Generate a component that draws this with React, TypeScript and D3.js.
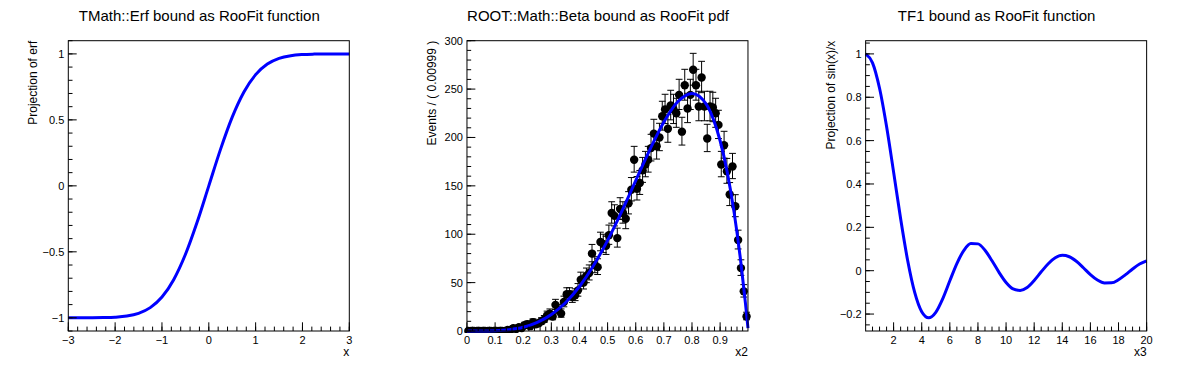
import * as d3 from "d3";

const W = 1196;
const H = 372;
const PAD_W = W / 3;
const FR = { left: 68.3, right: 349.3, top: 40.7, bottom: 331 };
const FONT = "'Liberation Sans', Arial, Helvetica, sans-serif";
const BLUE = "#0000ff";

// pad 1: erf(x)
const erfX = [-3, -2.75, -2.5, -2.25, -2, -1.75, -1.5, -1.25, -1, -0.75, -0.5, -0.25, 0, 0.25, 0.5, 0.75, 1, 1.25, 1.5, 1.75, 2, 2.25, 2.5, 2.75, 3];
const erfY = [-1, -0.9999, -0.9996, -0.9985, -0.9953, -0.9867, -0.9661, -0.9229, -0.8427, -0.7112, -0.5205, -0.2763, 0, 0.2763, 0.5205, 0.7112, 0.8427, 0.9229, 0.9661, 0.9867, 0.9953, 0.9985, 0.9996, 0.9999, 1];

// pad 2: beta pdf, 100 bins on [0, 0.999]
const betaCounts = [
  0, 0, 0, 0, 0, 0, 0, 0, 0, 0,
  0, 0, 0, 0, 1, 1, 3, 2, 4, 3,
  6, 7, 5, 9, 7, 8, 10, 12, 16, 18,
  15, 27, 22, 18, 30, 38, 38, 35, 37, 42,
  53, 50, 57, 60, 80, 68, 66, 92, 90, 88,
  99, 122, 119, 96, 126, 122, 116, 132, 146, 177,
  147, 153, 166, 172, 177, 189, 204, 191, 200, 222,
  229, 209, 233, 229, 225, 244, 206, 254, 230, 244,
  270, 254, 232, 262, 232, 199, 232, 231, 225, 213,
  172, 192, 165, 141, 170, 129, 94, 65, 41, 15,
];
const betaCurveX = [0, 0.05, 0.1, 0.15, 0.2, 0.25, 0.3, 0.35, 0.4, 0.45, 0.5, 0.55, 0.6, 0.65, 0.7, 0.75, 0.8, 0.85, 0.875, 0.9, 0.925, 0.95, 0.975, 0.99, 0.999];
const betaCurveY = [0, 0.02, 0.27, 1.3, 3.8, 8.8, 17, 29.2, 46, 67.6, 93.7, 123.4, 155.4, 187.2, 215.9, 237.1, 245.5, 234.7, 219.6, 196.6, 164.6, 122.1, 67.7, 28.8, 3];

// pad 3: sin(x)/x
const sincX = [0.01, 0.5, 1, 1.5, 2, 2.5, 3, 3.5, 4, 4.5, 5, 5.5, 6, 6.5, 7, 7.5, 8, 8.5, 9, 9.5, 10, 10.5, 11, 11.5, 12, 12.5, 13, 13.5, 14, 14.5, 15, 15.5, 16, 16.5, 17, 17.5, 18, 18.5, 19, 19.5, 20];
const sincY = [1, 0.9589, 0.8415, 0.665, 0.4546, 0.2394, 0.047, -0.1002, -0.1892, -0.2172, -0.1918, -0.1284, -0.0466, 0.033, 0.0939, 0.1251, 0.1237, 0.0939, 0.0458, -0.0079, -0.0544, -0.0838, -0.0909, -0.0775, -0.0447, -0.0053, 0.0323, 0.0594, 0.0707, 0.0644, 0.0433, 0.0136, -0.018, -0.0433, -0.0566, -0.0561, -0.0417, -0.0183, 0.0079, 0.031, 0.0456];

const fmt = d3.format("~g");

function stepTicks(domain: number[], step: number) {
  const lo = Math.min(domain[0], domain[1]);
  const hi = Math.max(domain[0], domain[1]);
  return d3
    .range(Math.ceil(lo / step - 1e-9), Math.floor(hi / step + 1e-9) + 1)
    .map((k) => Math.round(k * step * 1e6) / 1e6);
}

type PadProps = {
  index: number;
  title: string;
  xTitle: string;
  yTitle: string;
  x: d3.ScaleLinear<number, number>;
  y: d3.ScaleLinear<number, number>;
  xMajor: number;
  xMinor: number;
  yMajor: number;
  yMinor: number;
  children?: React.ReactNode;
};

function Pad({ index, title, xTitle, yTitle, x, y, xMajor, xMinor, yMajor, yMinor, children }: PadProps) {
  const ox = index * PAD_W;
  const [x0, x1] = x.range();
  const [y0, y1] = y.range();
  const xMaj = stepTicks(x.domain(), xMajor);
  const xMin = stepTicks(x.domain(), xMinor);
  const yMaj = stepTicks(y.domain(), yMajor);
  const yMin = stepTicks(y.domain(), yMinor);
  return (
    <g>
      <text x={ox + PAD_W / 2} y={21} textAnchor="middle" fontSize={15} fontFamily={FONT} fill="#000">
        {title}
      </text>
      {children}
      <rect x={x0} y={y1} width={x1 - x0} height={y0 - y1} fill="none" stroke="#000" strokeWidth={1} />
      {xMin.map((t) => (
        <line key={"xm" + t} x1={x(t)} x2={x(t)} y1={y0} y2={y0 - 4.4} stroke="#000" />
      ))}
      {xMaj.map((t) => (
        <g key={"xM" + t}>
          <line x1={x(t)} x2={x(t)} y1={y0} y2={y0 - 8.7} stroke="#000" />
          <text x={x(t)} y={343.5} textAnchor="middle" fontSize={11} fontFamily={FONT}>
            {fmt(t)}
          </text>
        </g>
      ))}
      {yMin.map((t) => (
        <line key={"ym" + t} x1={x0} x2={x0 + 4.2} y1={y(t)} y2={y(t)} stroke="#000" />
      ))}
      {yMaj.map((t) => (
        <g key={"yM" + t}>
          <line x1={x0} x2={x0 + 8.4} y1={y(t)} y2={y(t)} stroke="#000" />
          <text x={x0 - 4} y={y(t)} dy="0.36em" textAnchor="end" fontSize={11} fontFamily={FONT}>
            {fmt(t)}
          </text>
        </g>
      ))}
      <text x={x1} y={356} textAnchor="end" fontSize={12} fontFamily={FONT}>
        {xTitle}
      </text>
      <text
        transform={`translate(${x0 - 31},${y1}) rotate(-90)`}
        textAnchor="end"
        fontSize={12}
        fontFamily={FONT}
      >
        {yTitle}
      </text>
    </g>
  );
}

function frameX(index: number, domain: [number, number]) {
  const ox = index * PAD_W;
  return d3.scaleLinear().domain(domain).range([ox + FR.left, ox + FR.right]);
}

export default function App() {
  // erf pad
  const x1 = frameX(0, [-3, 3]);
  const y1 = d3.scaleLinear().domain([-1.1, 1.1]).range([FR.bottom, FR.top]);
  const erfLine = d3
    .line<number>()
    .x((_, i) => x1(erfX[i]))
    .y((d) => y1(d))
    .curve(d3.curveMonotoneX)(erfY);

  // beta pad
  const x2 = frameX(1, [0, 0.999]);
  const y2 = d3.scaleLinear().domain([0, 300]).range([FR.bottom, FR.top]);
  const binW = 0.999 / betaCounts.length;
  const betaLine = d3
    .line<number>()
    .x((_, i) => x2(betaCurveX[i]))
    .y((d) => y2(d))
    .curve(d3.curveMonotoneX)(betaCurveY);

  // sinc pad
  const x3 = frameX(2, [0.01, 20]);
  const y3 = d3.scaleLinear().domain([-0.2782, 1.0609]).range([FR.bottom, FR.top]);
  const sincLine = d3
    .line<number>()
    .x((_, i) => x3(sincX[i]))
    .y((d) => y3(d))
    .curve(d3.curveMonotoneX)(sincY);

  return (
    <svg
      width={W}
      height={H}
      viewBox={`0 0 ${W} ${H}`}
      style={{ position: "absolute", left: 0, top: 0, background: "#fff" }}
    >
      <defs>
        <clipPath id="betaClip">
          <rect x={x2(0) - 6} y={FR.top} width={x2(0.999) - x2(0) + 12} height={FR.bottom - FR.top + 2} />
        </clipPath>
      </defs>
      <rect width={W} height={H} fill="#fff" />

      <Pad
        index={0}
        title="TMath::Erf bound as RooFit function"
        xTitle="x"
        yTitle="Projection of erf"
        x={x1}
        y={y1}
        xMajor={1}
        xMinor={0.2}
        yMajor={0.5}
        yMinor={0.1}
      >
        <path d={erfLine ?? ""} fill="none" stroke={BLUE} strokeWidth={3} strokeLinejoin="round" />
      </Pad>

      <Pad
        index={1}
        title="ROOT::Math::Beta bound as RooFit pdf"
        xTitle="x2"
        yTitle="Events / ( 0.00999 )"
        x={x2}
        y={y2}
        xMajor={0.1}
        xMinor={0.02}
        yMajor={50}
        yMinor={10}
      >
        <g clipPath="url(#betaClip)">
          {betaCounts.map((n, i) => {
            const cx = x2((i + 0.5) * binW);
            const up = n + Math.sqrt(n + 0.25) + 0.5;
            const lo = n > 0 ? n - Math.sqrt(n + 0.25) + 0.5 : 0;
            return (
              <g key={i}>
                <line x1={cx} x2={cx} y1={y2(lo)} y2={y2(up)} stroke="#000" strokeWidth={1} />
                <line x1={cx - 3.4} x2={cx + 3.4} y1={y2(up)} y2={y2(up)} stroke="#000" strokeWidth={1} />
                <line x1={cx - 3.4} x2={cx + 3.4} y1={y2(lo)} y2={y2(lo)} stroke="#000" strokeWidth={1} />
                <circle cx={cx} cy={y2(n)} r={4.2} fill="#000" />
              </g>
            );
          })}
        </g>
        <path d={betaLine ?? ""} fill="none" stroke={BLUE} strokeWidth={3} strokeLinejoin="round" />
      </Pad>

      <Pad
        index={2}
        title="TF1 bound as RooFit function"
        xTitle="x3"
        yTitle="Projection of sin(x)/x"
        x={x3}
        y={y3}
        xMajor={2}
        xMinor={0.5}
        yMajor={0.2}
        yMinor={0.05}
      >
        <path d={sincLine ?? ""} fill="none" stroke={BLUE} strokeWidth={3} strokeLinejoin="round" />
      </Pad>
    </svg>
  );
}
